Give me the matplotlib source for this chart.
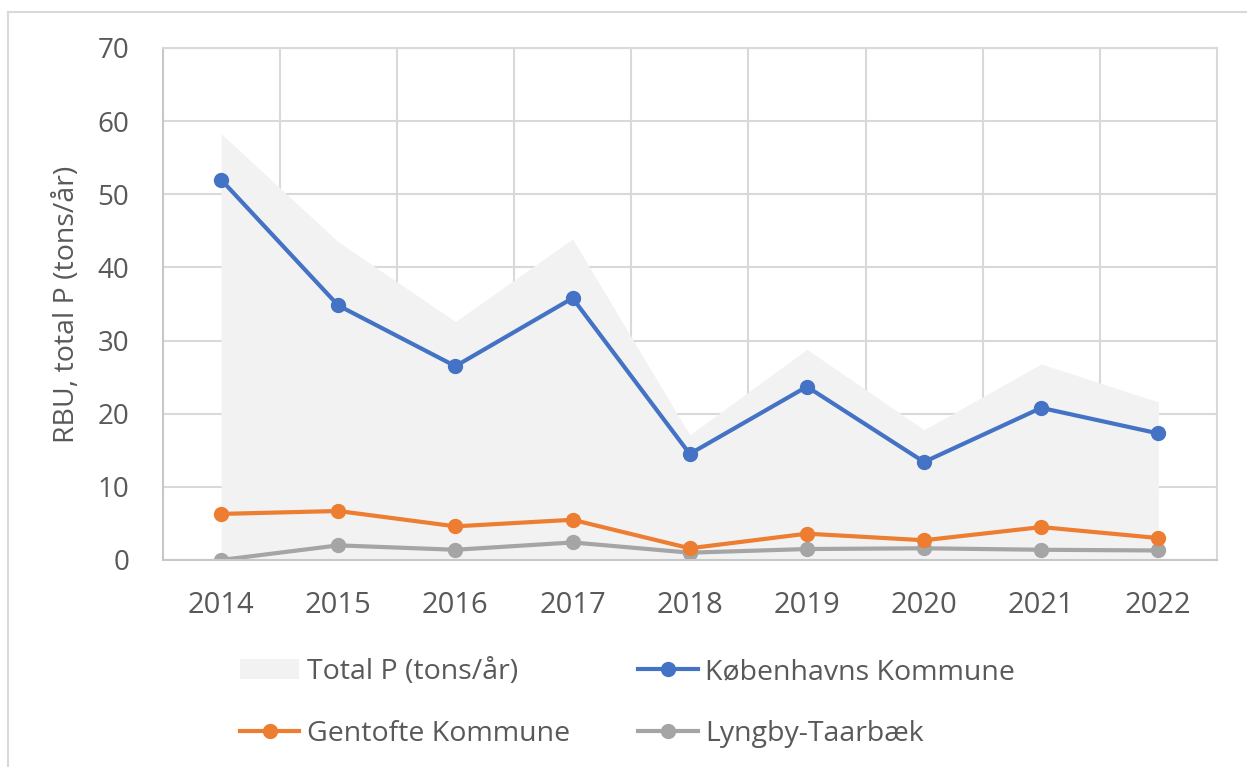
import matplotlib.pyplot as plt
from matplotlib.lines import Line2D

plt.rcParams['font.family'] = ['Open Sans', 'DejaVu Sans']

years = ["2014", "2015", "2016", "2017", "2018", "2019", "2020", "2021", "2022"]
total_p = [58.3, 43.5, 32.6, 43.9, 17.1, 28.8, 17.8, 26.8, 21.6]
kobenhavn = [52.0, 34.8, 26.5, 35.8, 14.5, 23.7, 13.4, 20.8, 17.3]
gentofte = [6.3, 6.7, 4.6, 5.5, 1.6, 3.6, 2.7, 4.5, 3.0]
lyngby = [0.0, 2.0, 1.4, 2.4, 1.0, 1.5, 1.6, 1.4, 1.3]

text_col = "#595959"
grid_col = "#d9d9d9"

W, H = 1247, 767
fig = plt.figure(figsize=(W / 100, H / 100), dpi=100)

# outer chart frame (only top and left edges fall inside the image)
fig.add_artist(Line2D([8 / W, 8 / W], [0, 1 - 12 / H], color=grid_col, lw=1.5))
fig.add_artist(Line2D([8 / W, 1], [1 - 12 / H, 1 - 12 / H], color=grid_col, lw=1.5))

ax = fig.add_axes([162.5 / W, 1 - 560 / H, (1217 - 162.5) / W, (560 - 48) / H])

x = list(range(len(years)))

ax.fill_between(x, total_p, 0, color="#f2f2f2", lw=0, label="Total P (tons/år)", zorder=1)
ax.plot(x, kobenhavn, color="#4472c4", lw=3, marker="o", ms=10, label="Københavns Kommune", zorder=4)
ax.plot(x, gentofte, color="#ed7d31", lw=3, marker="o", ms=10, label="Gentofte Kommune", zorder=3)
ax.plot(x, lyngby, color="#a5a5a5", lw=3, marker="o", ms=10, label="Lyngby-Taarbæk", zorder=2)

ax.set_xlim(-0.5, len(years) - 0.5)
ax.set_ylim(0, 70)
ax.set_yticks(range(0, 71, 10))
ax.set_xticks(x)
ax.set_xticklabels(years)
ax.set_xticks([i + 0.5 for i in x[:-1]], minor=True)

ax.grid(True, which="minor", axis="x", color=grid_col, lw=1.5, zorder=0)
ax.grid(True, which="major", axis="y", color=grid_col, lw=1.5, zorder=0)
ax.set_axisbelow(True)

for s in ["top", "right"]:
    ax.spines[s].set_color(grid_col)
    ax.spines[s].set_linewidth(1.5)
for s in ["left", "bottom"]:
    ax.spines[s].set_color("#c8c8c8")
    ax.spines[s].set_linewidth(1.5)

ax.tick_params(which="both", length=0, colors=text_col)
ax.tick_params(axis="y", labelsize=20, pad=24)
ax.tick_params(axis="x", labelsize=21, pad=22)

ax.set_ylabel("RBU, total P (tons/år)", fontsize=20.5, color=text_col,
              va="center", ha="center")
ax.yaxis.set_label_coords(-0.0906, 0.5)

handles, labels = ax.get_legend_handles_labels()
order = [0, 2, 1, 3]
fig.legend([handles[i] for i in order], [labels[i] for i in order],
           ncol=2, loc="center left", bbox_to_anchor=(214 / W, 1 - 703 / H),
           frameon=False, fontsize=20.5, labelcolor=text_col,
           handlelength=2.1, handletextpad=0.25, columnspacing=2.4,
           labelspacing=1.2)

fig.savefig("out.png", dpi=100)
